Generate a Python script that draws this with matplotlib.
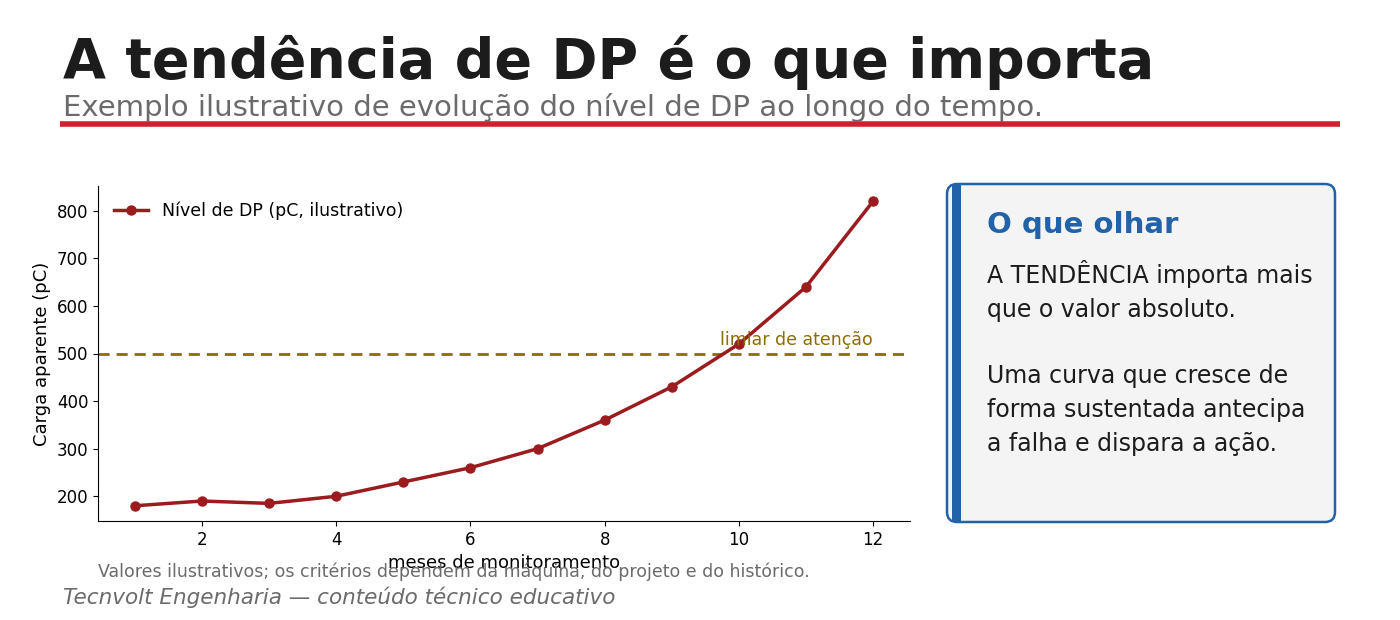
import matplotlib
matplotlib.use("Agg")
import matplotlib.pyplot as plt
from matplotlib.patches import FancyBboxPatch, Rectangle

# Data (illustrative PD trend)
meses = [1, 2, 3, 4, 5, 6, 7, 8, 9, 10, 11, 12]
nivel_dp = [180, 190, 185, 200, 230, 260, 300, 360, 430, 520, 640, 820]
limiar = 500
xticks = [2, 4, 6, 8, 10, 12]
yticks = [200, 300, 400, 500, 600, 700, 800]

titulo = "A tendência de DP é o que importa"
subtitulo = "Exemplo ilustrativo de evolução do nível de DP ao longo do tempo."
box_titulo = "O que olhar"
box_texto = ("A TENDÊNCIA importa mais\nque o valor absoluto.\n\n"
             "Uma curva que cresce de\nforma sustentada antecipa\na falha e dispara a ação.")
nota = "Valores ilustrativos; os critérios dependem da máquina, do projeto e do histórico."
rodape = "Tecnvolt Engenharia — conteúdo técnico educativo"

RED_LINE = "#d0202e"
DP_COLOR = "#9b1b1f"
THR_COLOR = "#8c6d00"
BLUE = "#2262a8"
GRAY = "#6b6b6b"

plt.rcParams['font.family'] = ['DejaVu Sans']

fig = plt.figure(figsize=(14, 6.2), dpi=100)
fig.patch.set_facecolor("white")

# Header
fig.text(63 / 1400, 1 - 78 / 620, titulo, fontsize=40, fontweight="bold",
         color="#1c1c1c", va="baseline", ha="left")
fig.text(63 / 1400, 1 - 116 / 620, subtitulo, fontsize=21, color=GRAY,
         va="baseline", ha="left")
fig.add_artist(plt.Line2D([60 / 1400, 1340 / 1400], [1 - 124 / 620, 1 - 124 / 620],
                          transform=fig.transFigure, color=RED_LINE, linewidth=4,
                          solid_capstyle="butt"))

# Main chart
ax = fig.add_axes([98 / 1400, 1 - 521 / 620, (910 - 98) / 1400, (521 - 186) / 620])
ax.plot(meses, nivel_dp, color=DP_COLOR, linewidth=2.5, marker="o", markersize=6.5,
        label="Nível de DP (pC, ilustrativo)", zorder=3)
ax.axhline(limiar, color=THR_COLOR, linestyle="--", linewidth=2, dashes=(4, 2.5))
ax.text(meses[-1], limiar + 10, "limiar de atenção", color=THR_COLOR, fontsize=12.5,
        ha="right", va="bottom")
ax.set_xticks(xticks)
ax.set_yticks(yticks)
ax.tick_params(labelsize=12)
ax.set_xlabel("meses de monitoramento", fontsize=13, labelpad=4)
ax.set_ylabel("Carga aparente (pC)", fontsize=13)
ax.spines["top"].set_visible(False)
ax.spines["right"].set_visible(False)
ax.legend(loc="upper left", frameon=False, fontsize=12.5)

# Side box (inches coords)
tr = fig.dpi_scale_trans
box = FancyBboxPatch((9.47, 0.98), 3.88, 3.38, boxstyle="round,pad=0,rounding_size=0.1",
                     transform=tr, facecolor="#f4f4f4", edgecolor=BLUE, linewidth=1.8)
fig.add_artist(box)
fig.add_artist(Rectangle((9.52, 0.985), 0.085, 3.37, transform=tr,
                         facecolor=BLUE, edgecolor="none"))
fig.text(9.87, 6.2 - 2.33, box_titulo, transform=tr, fontsize=21, fontweight="bold",
         color=BLUE, va="baseline", ha="left")
fig.text(9.87, 6.2 - 2.60, box_texto, transform=tr, fontsize=17, color="#1c1c1c",
         va="top", ha="left", linespacing=1.5)

# Footer
fig.text(98 / 1400, 1 - 577 / 620, nota, fontsize=12.5, color=GRAY, va="baseline", ha="left")
fig.text(63 / 1400, 1 - 604 / 620, rodape, fontsize=15.5, color=GRAY, style="italic",
         va="baseline", ha="left")

fig.savefig("out.png", dpi=100)
